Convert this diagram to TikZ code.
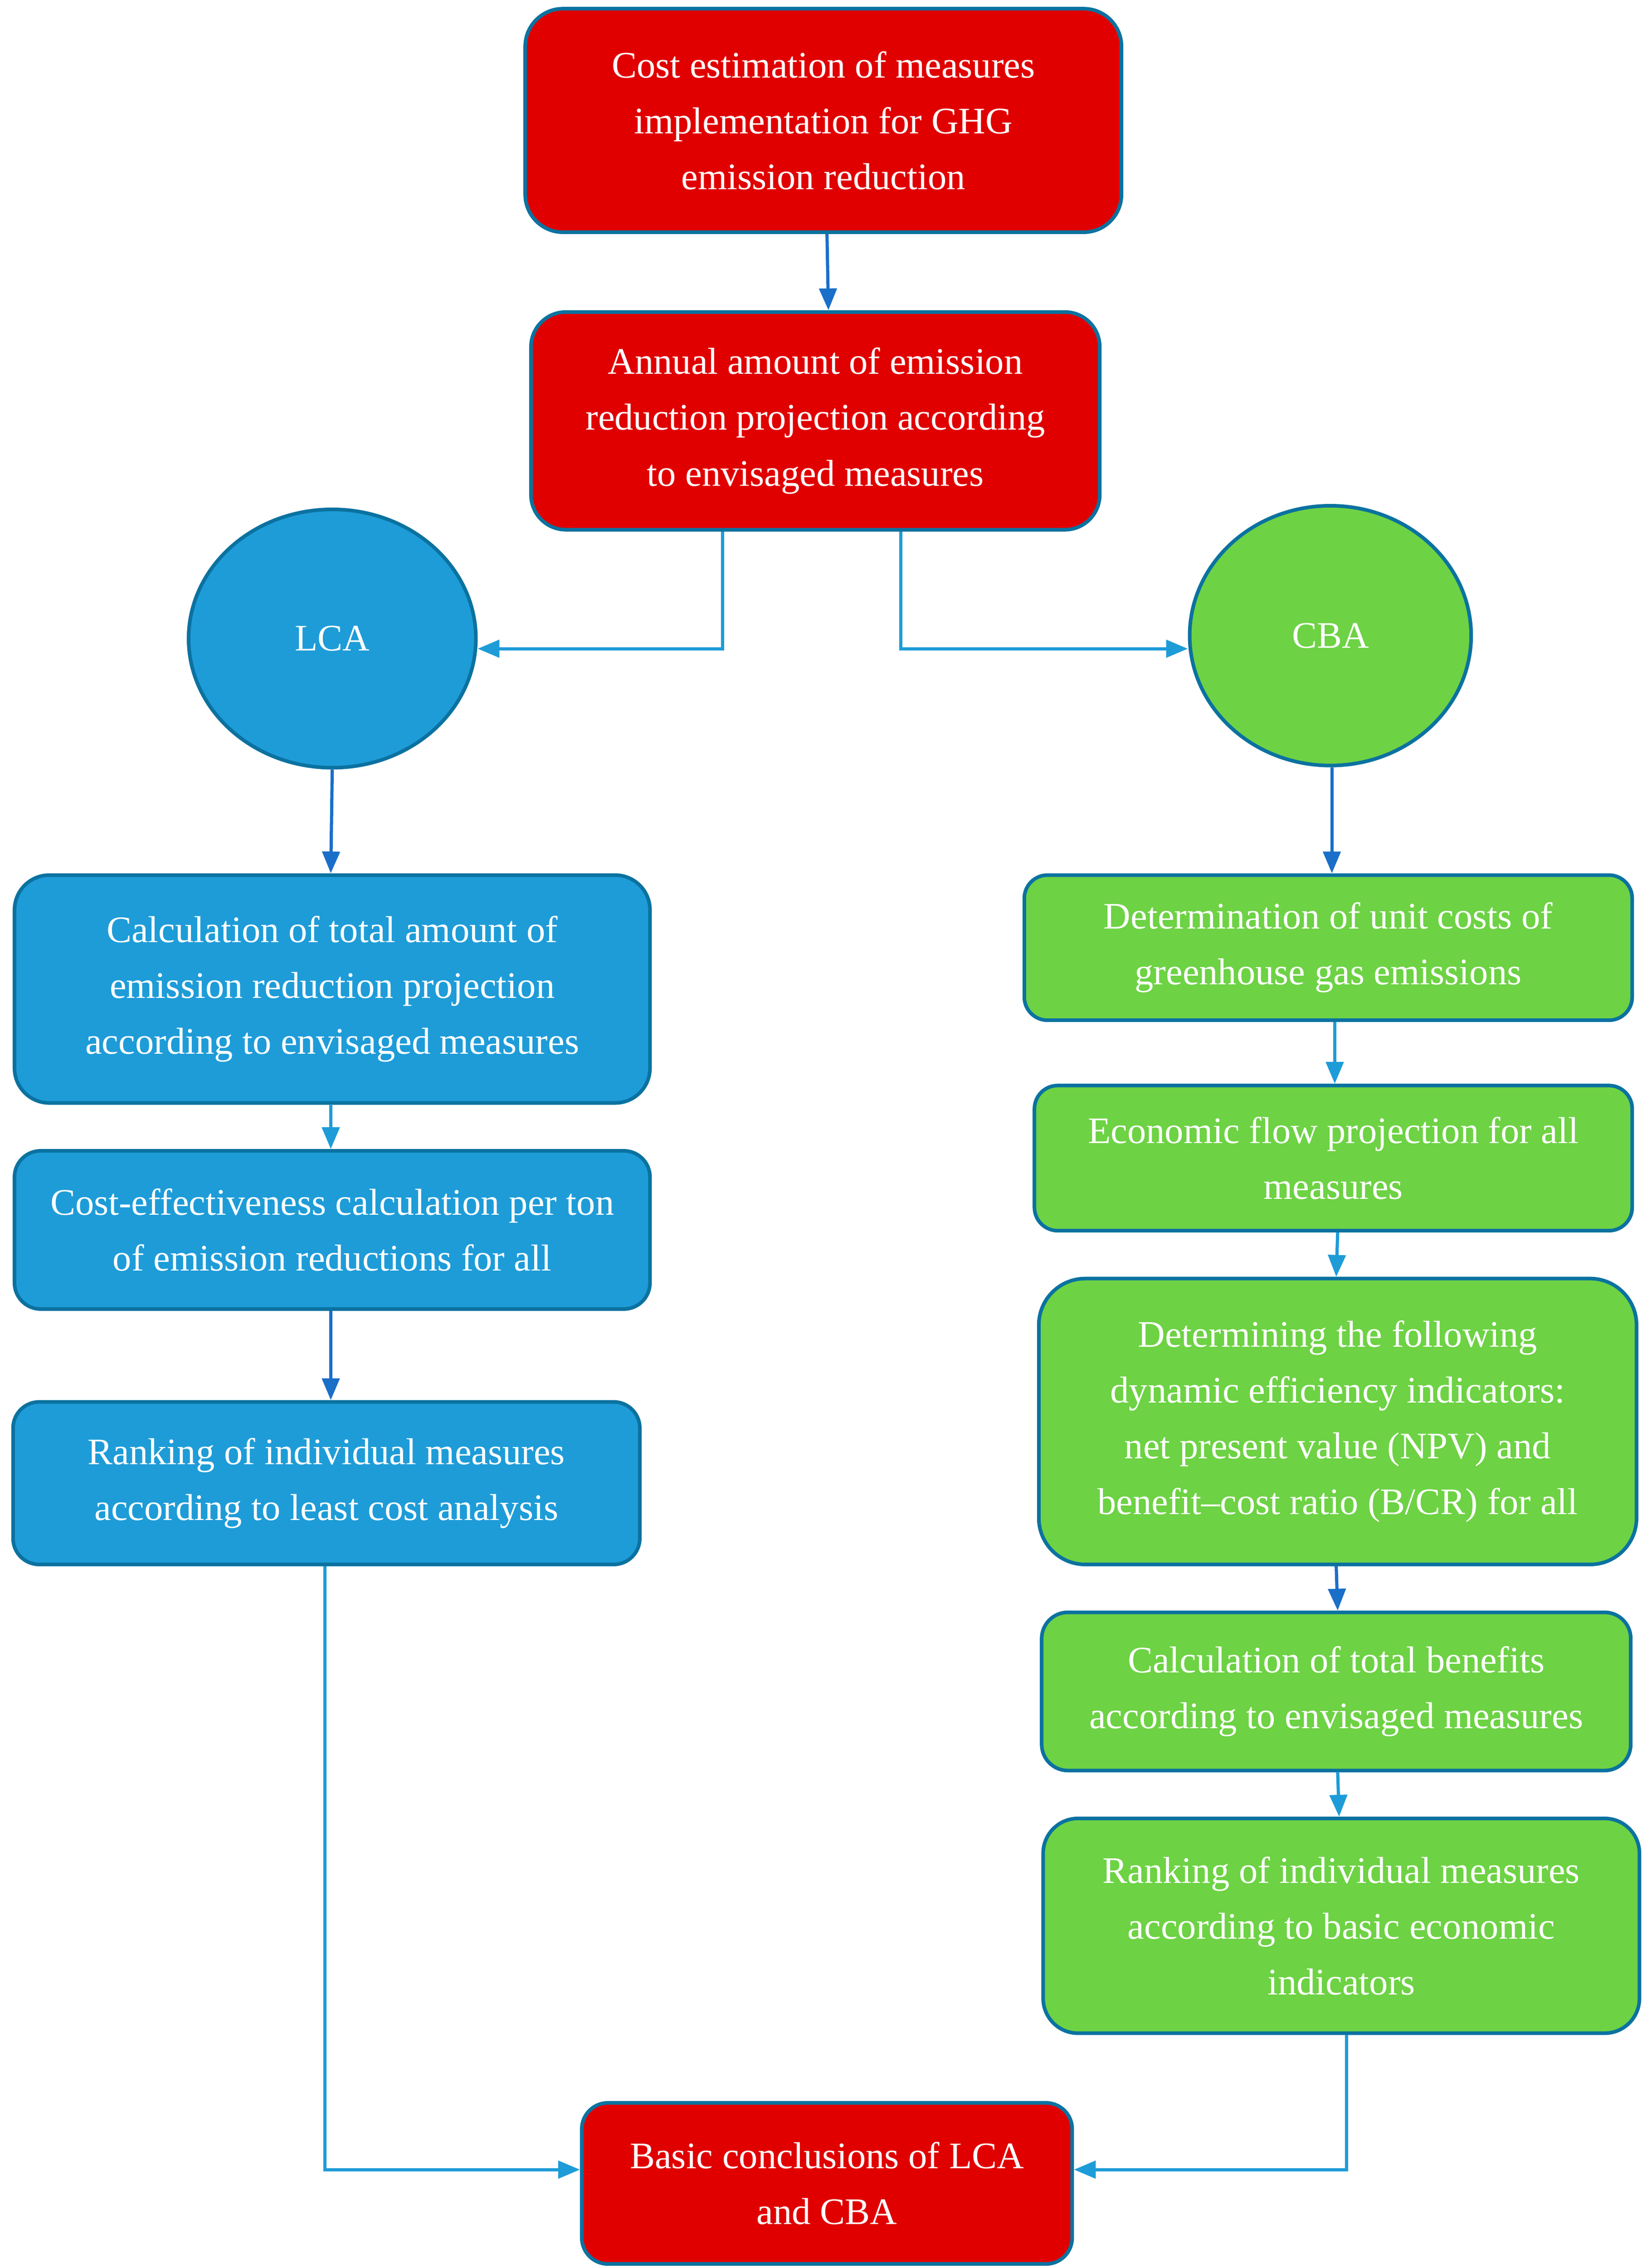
\documentclass[tikz,border=0pt]{standalone}
\usepackage{fontspec}
\setmainfont{Liberation Serif}
\usetikzlibrary{arrows.meta,shapes.geometric,calc}
\definecolor{cred}{HTML}{E00000}
\definecolor{cblue}{HTML}{1E9CD8}
\definecolor{cgreen}{HTML}{6DD244}
\definecolor{bord}{HTML}{0B72A0}
\definecolor{darkarr}{HTML}{1A6FC8}
\definecolor{lightarr}{HTML}{1E9CD8}
\newcommand\boxfont{\fontsize{25.8}{38.5}\selectfont}
\tikzset{
  box/.style={draw=bord, line width=2.5pt, rounded corners=20pt, text=white,
    align=center, inner sep=0pt, font=\boxfont},
  oval/.style={ellipse, draw=bord, line width=2.5pt, text=white, inner sep=0pt, font=\boxfont},
  darr/.style={draw=darkarr, line width=2.2pt, -{Triangle[length=15pt,width=12pt]}},
  larr/.style={draw=lightarr, line width=2.2pt, -{Triangle[length=15pt,width=12pt]}},
}
\begin{document}
\begin{tikzpicture}[x=1pt,y=-1pt]
\useasboundingbox (0,0) rectangle (1135,1562.8);
\node[box,fill=cred,minimum width=411pt,minimum height=154pt,rounded corners=26pt] (n1) at (567.5,83)
  {Cost estimation of measures\\implementation for GHG\\emission reduction};
\node[box,fill=cred,minimum width=392pt,minimum height=150pt,rounded corners=24pt] (n2) at (562,290)
  {Annual amount of emission\\reduction projection according\\to envisaged measures};
\node[oval,fill=cblue,minimum width=198pt,minimum height=178pt] (lca) at (229,440) {LCA};
\node[oval,fill=cgreen,minimum width=194pt,minimum height=179pt] (cba) at (917,438) {CBA};
\node[box,fill=cblue,minimum width=438pt,minimum height=157pt,rounded corners=24pt] (l1) at (229,681.5)
  {Calculation of total amount of\\emission reduction projection\\according to envisaged measures};
\node[box,fill=cblue,minimum width=438pt,minimum height=109pt,rounded corners=18pt] (l2) at (229,847.5)
  {Cost-effectiveness calculation per ton\\of emission reductions for all};
\node[box,fill=cblue,minimum width=432pt,minimum height=112pt,rounded corners=18pt] (l3) at (225,1022)
  {Ranking of individual measures\\according to least cost analysis};
\node[box,fill=cred,minimum width=338pt,minimum height=111pt,rounded corners=18pt] (fin) at (570,1504.5)
  {Basic conclusions of LCA\\and CBA};
\node[box,fill=cgreen,minimum width=419pt,minimum height=100pt,rounded corners=16pt] (r1) at (915.5,653)
  {Determination of unit costs of\\greenhouse gas emissions};
\node[box,fill=cgreen,minimum width=412pt,minimum height=100pt,rounded corners=16pt] (r2) at (919,798)
  {Economic flow projection for all\\measures};
\node[box,fill=cgreen,minimum width=412pt,minimum height=197pt,rounded corners=32pt] (r3) at (922,979.5)
  {Determining the following\\dynamic efficiency indicators:\\net present value (NPV) and\\benefit–cost ratio (B/CR) for all};
\node[box,fill=cgreen,minimum width=406pt,minimum height=109pt,rounded corners=18pt] (r4) at (921,1165.5)
  {Calculation of total benefits\\according to envisaged measures};
\node[box,fill=cgreen,minimum width=411pt,minimum height=148pt,rounded corners=24pt] (r5) at (924.5,1327)
  {Ranking of individual measures\\according to basic economic\\indicators};
% connectors
\draw[darr] ($(n1.south)+(2.5,0)$) -- ($(n2.north)+(9,0)$);
\draw[larr] ($(n2.south)+(-64,0)$) |- ($(lca.east)+(0,7)$);
\draw[larr] ($(n2.south)+(59,0)$) |- ($(cba.west)+(0,9)$);
\draw[darr] (lca.south) -- ($(l1.north)+(-1,0)$);
\draw[larr] ($(l1.south)+(-1,0)$) -- ($(l2.north)+(-1,0)$);
\draw[darr] ($(l2.south)+(-1,0)$) -- ($(l3.north)+(3,0)$);
\draw[larr] ($(l3.south)+(-1,0)$) |- ($(fin.west)+(0,-9.5)$);
\draw[darr] ($(cba.south)+(1,0)$) -- ($(r1.north)+(2.5,0)$);
\draw[larr] ($(r1.south)+(4.5,0)$) -- ($(r2.north)+(1,0)$);
\draw[larr] ($(r2.south)+(3,0)$) -- ($(r3.north)+(-1,0)$);
\draw[darr] ($(r3.south)+(-1,0)$) -- ($(r4.north)+(1,0)$);
\draw[larr] ($(r4.south)+(1,0)$) -- ($(r5.north)+(-1.5,0)$);
\draw[larr] ($(r5.south)+(3.5,0)$) |- ($(fin.east)+(0,-9.5)$);
\end{tikzpicture}
\end{document}
